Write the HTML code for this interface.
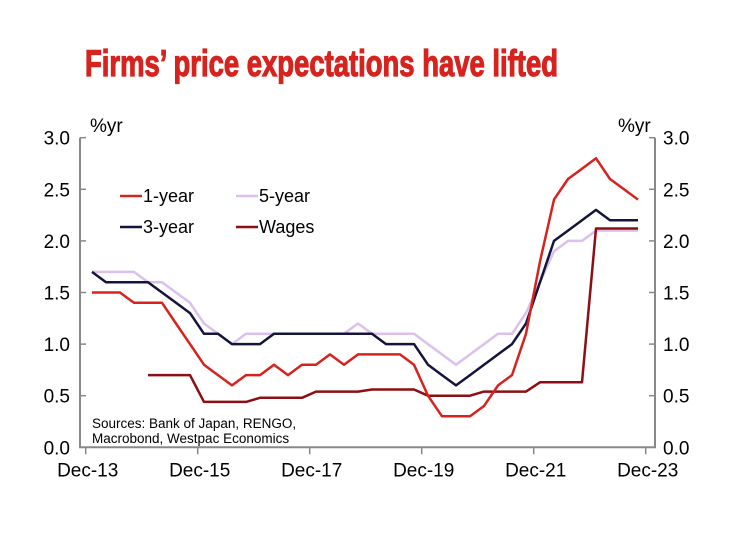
<!DOCTYPE html>
<html><head><meta charset="utf-8"><style>
body{margin:0;background:#fff}
svg{display:block;font-family:"Liberation Sans",Arial,sans-serif}
</style></head><body>
<svg id="chart" width="740" height="555" viewBox="0 0 740 555">
<text x="85" y="76" font-family="'Liberation Sans Narrow','Liberation Sans',sans-serif" font-weight="bold" font-size="37" fill="#d7231e" stroke="#d7231e" stroke-width="1.2" textLength="473" lengthAdjust="spacingAndGlyphs">Firms’ price expectations have lifted</text>
<g id="axes"></g>
<g id="series"></g>
<g font-size="18" fill="#000">
  <line x1="120" y1="196" x2="142" y2="196" stroke="#d7231e" stroke-width="2.5"/>
  <text x="143" y="202">1-year</text>
  <line x1="120" y1="227" x2="142" y2="227" stroke="#14143c" stroke-width="2.5"/>
  <text x="143" y="233">3-year</text>
  <line x1="236" y1="196" x2="258" y2="196" stroke="#dcc0ec" stroke-width="2.5"/>
  <text x="259" y="202">5-year</text>
  <line x1="236" y1="227" x2="258" y2="227" stroke="#8b0f14" stroke-width="2.5"/>
  <text x="259" y="233">Wages</text>
</g>
<text x="92" y="428" font-size="13.5">Sources: Bank of Japan, RENGO,</text>
<text x="92" y="443" font-size="13.5">Macrobond, Westpac Economics</text>
</svg>
<script>
const yTicks=[0,0.5,1,1.5,2,2.5,3];
const yTickLabels=["0.0","0.5","1.0","1.5","2.0","2.5","3.0"];
const xTickLabels=["Dec-13","Dec-15","Dec-17","Dec-19","Dec-21","Dec-23"];
const xTickQuarters=[0,8,16,24,32,40];
const oneYear=[1.5,1.5,1.5,1.4,1.4,1.4,1.2,1.0,0.8,0.7,0.6,0.7,0.7,0.8,0.7,0.8,0.8,0.9,0.8,0.9,0.9,0.9,0.9,0.8,0.5,0.3,0.3,0.3,0.4,0.6,0.7,1.1,1.8,2.4,2.6,2.7,2.8,2.6,2.5,2.4];
const threeYear=[1.7,1.6,1.6,1.6,1.6,1.5,1.4,1.3,1.1,1.1,1.0,1.0,1.0,1.1,1.1,1.1,1.1,1.1,1.1,1.1,1.1,1.0,1.0,1.0,0.8,0.7,0.6,0.7,0.8,0.9,1.0,1.2,1.6,2.0,2.1,2.2,2.3,2.2,2.2,2.2];
const fiveYear=[1.7,1.7,1.7,1.7,1.6,1.6,1.5,1.4,1.2,1.1,1.0,1.1,1.1,1.1,1.1,1.1,1.1,1.1,1.1,1.2,1.1,1.1,1.1,1.1,1.0,0.9,0.8,0.9,1.0,1.1,1.1,1.3,1.6,1.9,2.0,2.0,2.1,2.1,2.1,2.1];
const wages=[null,null,null,null,0.7,0.7,0.7,0.7,0.44,0.44,0.44,0.44,0.48,0.48,0.48,0.48,0.54,0.54,0.54,0.54,0.56,0.56,0.56,0.56,0.5,0.5,0.5,0.5,0.54,0.54,0.54,0.54,0.63,0.63,0.63,0.63,2.12,2.12,2.12,2.12];

const NS="http://www.w3.org/2000/svg";
const L=80,R=655,Y0=447.3,Y3=137.7;
const y=v=>Y0-(v/3)*(Y0-Y3);
const xq=q=>85.7+q*14;
const xi=i=>xq(i+0.45);
function mk(tag,attrs,parent){const e=document.createElementNS(NS,tag);for(const k in attrs)e.setAttribute(k,attrs[k]);parent.appendChild(e);return e;}
const axes=document.getElementById('axes');
const fr=mk('path',{d:`M${L},${Y3} V${Y0} H${R} V${Y3}`,fill:'none',stroke:'#888','stroke-width':2},axes);


yTicks.forEach((v,k)=>{
  const t1=mk('line',{x1:L,x2:L+6,y1:y(v),y2:y(v),stroke:'#888','stroke-width':1.5},axes);
  
  
  const t2=mk('line',{x1:R-6,x2:R,y1:y(v),y2:y(v),stroke:'#888','stroke-width':1.5},axes);
  
  
  const a=mk('text',{x:L-10,y:y(v)+7,'text-anchor':'end','font-size':19},axes);a.textContent=yTickLabels[k];
  
  
  const b=mk('text',{x:R+8,y:y(v)+7,'font-size':19},axes);b.textContent=yTickLabels[k];
  
  
});
xTickQuarters.forEach((q,k)=>{
  const t=mk('line',{x1:xq(q),x2:xq(q),y1:Y0,y2:Y0+7,stroke:'#888','stroke-width':1.5},axes);
  
  
  const a=mk('text',{x:xq(q)+2,y:Y0+29,'text-anchor':'middle','font-size':19},axes);a.textContent=xTickLabels[k];
  
  
});
const u1=mk('text',{x:90,y:132,'font-size':19},axes);u1.textContent='%yr';


const u2=mk('text',{x:618,y:132,'font-size':19},axes);u2.textContent='%yr';


const g=document.getElementById('series');
function line(arr,color,name){
  let d='';arr.forEach((v,i)=>{if(v==null)return;d+=(d?'L':'M')+xi(i).toFixed(1)+','+y(v).toFixed(1);});
  const p=mk('path',{d,fill:'none',stroke:color,'stroke-width':2.5,'stroke-linejoin':'round'},g);
  
  
}
line(fiveYear,'#dcc0ec','line-5-year');
line(wages,'#8b0f14','line-wages');
line(threeYear,'#14143c','line-3-year');
line(oneYear,'#d7231e','line-1-year');
</script>
</body></html>
